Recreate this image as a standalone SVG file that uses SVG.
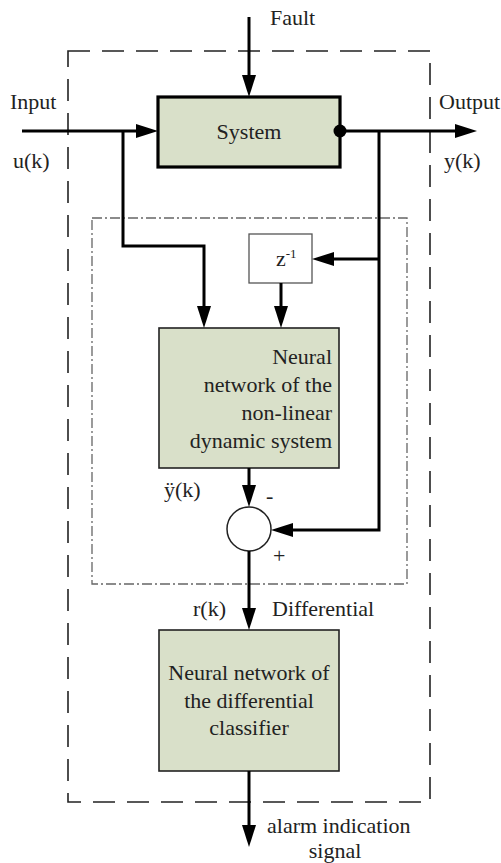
<svg xmlns="http://www.w3.org/2000/svg" width="501" height="863" viewBox="0 0 501 863" font-family="'Liberation Serif', 'DejaVu Serif', serif">
<style>
text{font-family:"Liberation Serif","DejaVu Serif",serif;font-size:22px;fill:#222}
.box{fill:#d9e0c9;stroke:#222;stroke-width:1.6}
.wire{fill:none;stroke:#000;stroke-width:3}
</style>
<defs>
<marker id="ah" markerUnits="userSpaceOnUse" markerWidth="22" markerHeight="14" refX="12" refY="7" orient="auto">
<path d="M0,0 L22,7 L0,14 z" fill="#000"/>
</marker>
</defs>
<rect width="501" height="863" fill="#fff"/>
<g id="outer-boundary">
<rect x="68" y="51" width="362" height="751" fill="none" stroke="#222" stroke-width="1.6" stroke-dasharray="22 12"/>
</g>
<g id="inner-boundary">
<rect x="92" y="218" width="315" height="366" fill="none" stroke="#666" stroke-width="1.3" stroke-dasharray="10 3 2 3"/>
</g>
<g id="system">
<rect x="158" y="97" width="182" height="70" fill="#d9e0c9" stroke="#000" stroke-width="3.2"/>
<text x="249" y="139" text-anchor="middle">System</text>
</g>
<g id="delay">
<rect x="249" y="234" width="63" height="49" fill="#fff" stroke="#555" stroke-width="1.3"/>
<text x="276" y="266">z<tspan font-size="13" dy="-8">-1</tspan></text>
</g>
<g id="nn-dynamic">
<rect class="box" x="159" y="328" width="180" height="140"/>
<text x="332" y="364" text-anchor="end">Neural</text>
<text x="332" y="392" text-anchor="end">network of the</text>
<text x="332" y="420" text-anchor="end">non-linear</text>
<text x="332" y="448" text-anchor="end">dynamic system</text>
</g>
<g id="sum">
<circle cx="249" cy="529" r="22" fill="#fff" stroke="#222" stroke-width="1.5"/>
</g>
<g id="nn-classifier">
<rect class="box" x="159" y="630" width="180" height="141"/>
<text x="249" y="680" text-anchor="middle">Neural network of</text>
<text x="249" y="708" text-anchor="middle">the differential</text>
<text x="249" y="735" text-anchor="middle">classifier</text>
</g>
<g id="connectors">
<path class="wire" d="M249,17 V87" marker-end="url(#ah)"/>
<path class="wire" d="M22,131 H148" marker-end="url(#ah)"/>
<path class="wire" d="M340,131 H467" marker-end="url(#ah)"/>
<path class="wire" d="M123,131 V246 H204 V318" marker-end="url(#ah)"/>
<path class="wire" d="M379,131 V530 H281" marker-end="url(#ah)"/>
<path class="wire" d="M379,259 H322" marker-end="url(#ah)"/>
<path class="wire" d="M281,283 V318" marker-end="url(#ah)"/>
<path class="wire" d="M249,468 V497" marker-end="url(#ah)"/>
<path class="wire" d="M249,551 V620" marker-end="url(#ah)"/>
<path class="wire" d="M249,771 V837" marker-end="url(#ah)"/>
<circle cx="340" cy="131" r="6.5" fill="#000"/>
</g>
<g id="labels">
<text x="270" y="25">Fault</text>
<text x="10" y="109">Input</text>
<text x="13" y="168">u(k)</text>
<text x="439" y="109">Output</text>
<text x="444" y="168">y(k)</text>
<text x="164" y="497">ÿ(k)</text>
<text x="266" y="503">-</text>
<text x="273" y="563">+</text>
<text x="193" y="616">r(k)</text>
<text x="272" y="616">Differential</text>
<text x="267" y="833">alarm indication</text>
<text x="335" y="858" text-anchor="middle">signal</text>
</g>
</svg>
